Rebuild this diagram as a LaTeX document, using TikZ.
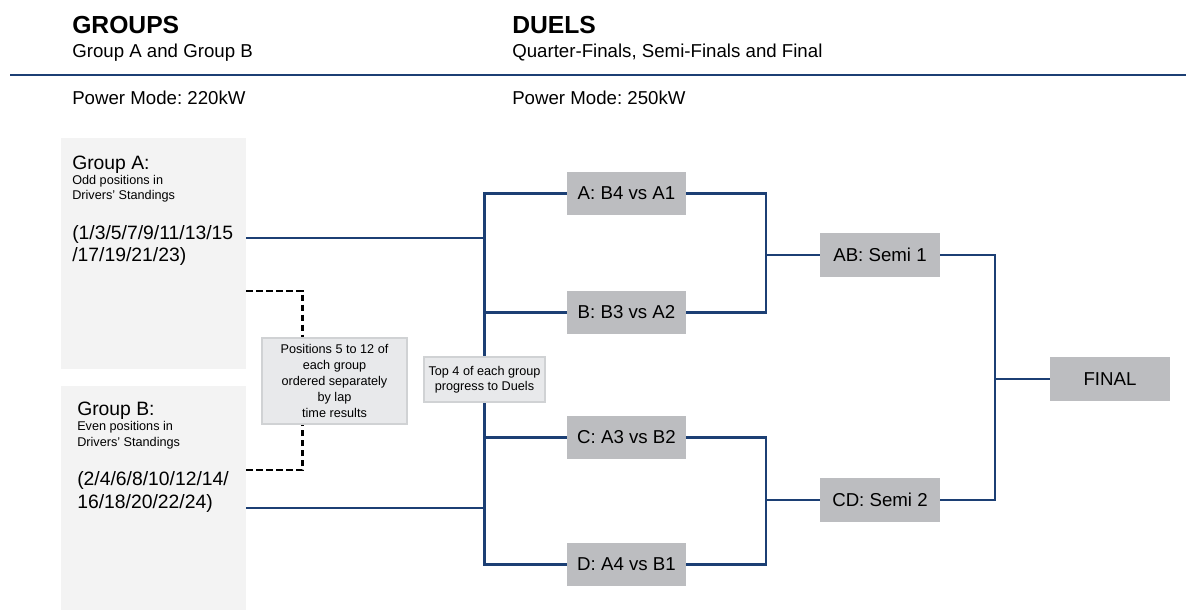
\documentclass[tikz,border=0pt]{standalone}
\usepackage{fontspec}
\setmainfont{Liberation Sans}
\frenchspacing
\usetikzlibrary{positioning,backgrounds,calc}
\definecolor{navy}{HTML}{1C3F74}
\definecolor{duelgray}{HTML}{BCBDC0}
\definecolor{groupgray}{HTML}{F3F3F3}
\definecolor{notegray}{HTML}{E8E9EB}
\definecolor{noteedge}{HTML}{D0D2D4}
\tikzstyle{bracket} = [navy,line width=1.6pt]
\tikzstyle{dashline} = [black,line width=2.2pt,dash pattern=on 5pt off 2.5pt]

\begin{document}
\begin{tikzpicture}
    [x=0.75pt,y=-0.75pt,every node/.style={inner sep=0pt},
    duel/.style={fill=duelgray,minimum width=89.25pt,minimum height=32.25pt,
    font=\fontsize{14}{16}\selectfont},
    group/.style={fill=groupgray,anchor=north west,minimum width=138.75pt},
    note/.style={fill=notegray,draw=noteedge,line width=1pt,align=center,
    font=\fontsize{9.5}{12}\selectfont},
    txt/.style={anchor=base west,font=\fontsize{14}{17}\selectfont},
    head/.style={anchor=base west,font=\bfseries\fontsize{18.5}{22}\selectfont}]
    \useasboundingbox (0,0) rectangle (1186,610);
    % headers
    \node[head] (hGroups) at (72,34) {GROUPS};
    \node[txt] (sGroups) at (72,58) {Group A and Group B};
    \node[txt] (pGroups) at (72,104) {Power Mode: 220kW};
    \node[head] (hDuels) at (512,34) {DUELS};
    \node[txt] (sDuels) at (512,58) {Quarter-Finals, Semi-Finals and Final};
    \node[txt] (pDuels) at (512,104) {Power Mode: 250kW};
    \coordinate (ruleL) at (10,75);
    \coordinate (ruleR) at (1186,75);
    \draw[navy,line width=1.9pt] (ruleL) -- (ruleR);
    % groups (multi-line texts sit on their last baseline)
    \node[group,minimum height=173.25pt] (boxA) at (61,138) {};
    \node[group,minimum height=168pt] (boxB) at (61,386) {};
    \node[txt,font=\fontsize{14.5}{17}\selectfont] (gAname) at (72,169) {Group A:};
    \node[txt,align=left,font=\fontsize{9.5}{10.5}\selectfont] (gAinfo) at (72,199)
    {Odd positions in\\Drivers' Standings};
    \node[txt,align=left,font=\fontsize{14.5}{16.5}\selectfont] (gAlist) at (72,261)
    {(1/3/5/7/9/11/13/15\\/17/19/21/23)};
    \node[txt,font=\fontsize{14.5}{17}\selectfont] (gBname) at (77,415) {Group B:};
    \node[txt,align=left,font=\fontsize{9.5}{11.5}\selectfont] (gBinfo) at (77,446)
    {Even positions in\\Drivers' Standings};
    \node[txt,align=left,font=\fontsize{14.5}{17}\selectfont] (gBlist) at (77,508)
    {(2/4/6/8/10/12/14/\\16/18/20/22/24)};
    % notes
    \node[note,minimum width=108.75pt,minimum height=64.5pt] (lapNote) at (334.5,381)
    {Positions 5 to 12 of\\each group\\ordered separately\\by lap\\time results};
    \node[note,minimum width=90.75pt,minimum height=33.75pt,
    font=\fontsize{9.5}{11.25}\selectfont] (topNote) at (484.5,379.5)
    {Top 4 of each group\\progress to Duels};
    % duels
    \node[duel] (qA) at (626.5,193.5) {A: B4 vs A1};
    \node[duel] (qB) at (626.5,312.5) {B: B3 vs A2};
    \node[duel] (qC) at (626.5,437.5) {C: A3 vs B2};
    \node[duel] (qD) at (626.5,564.5) {D: A4 vs B1};
    \node[duel,minimum width=90pt,minimum height=33pt] (sAB) at (880,255) {AB: Semi 1};
    \node[duel,minimum width=90pt,minimum height=33pt] (sCD) at (880,500) {CD: Semi 2};
    \node[duel,minimum width=90pt,minimum height=33pt] (fin) at (1110,379) {FINAL};
    \coordinate (outA) at (246,238);
    \coordinate (outB) at (246,508);
    \coordinate (dashA) at (246,291);
    \coordinate (dashB) at (246,470);
    \coordinate (jAB) at (766,255);
    \coordinate (jCD) at (766,500);
    \coordinate (jF) at (995,379);
    \begin{scope}[on background layer]
    \draw[bracket] (qA.west) -| (topNote.center) |- (qD.west);
    \foreach \from in {outA,outB,qB.west,qC.west}
    \draw[bracket] (\from) -- (\from -| topNote.center);
    \foreach \ua/\ub/\jn/\nx in {qA/qB/jAB/sAB,qC/qD/jCD/sCD,sAB/sCD/jF/fin}
    \draw[bracket] (\ua.east) -| (\jn) |- (\ub.east) (\jn) -- (\nx.west);
    \draw[dashline] (dashA) -| ($(lapNote.north west)+(41,0)$);
    \draw[dashline] (dashB) -| ($(lapNote.south west)+(41,0)$);
    \end{scope}
\end{tikzpicture}
\end{document}
